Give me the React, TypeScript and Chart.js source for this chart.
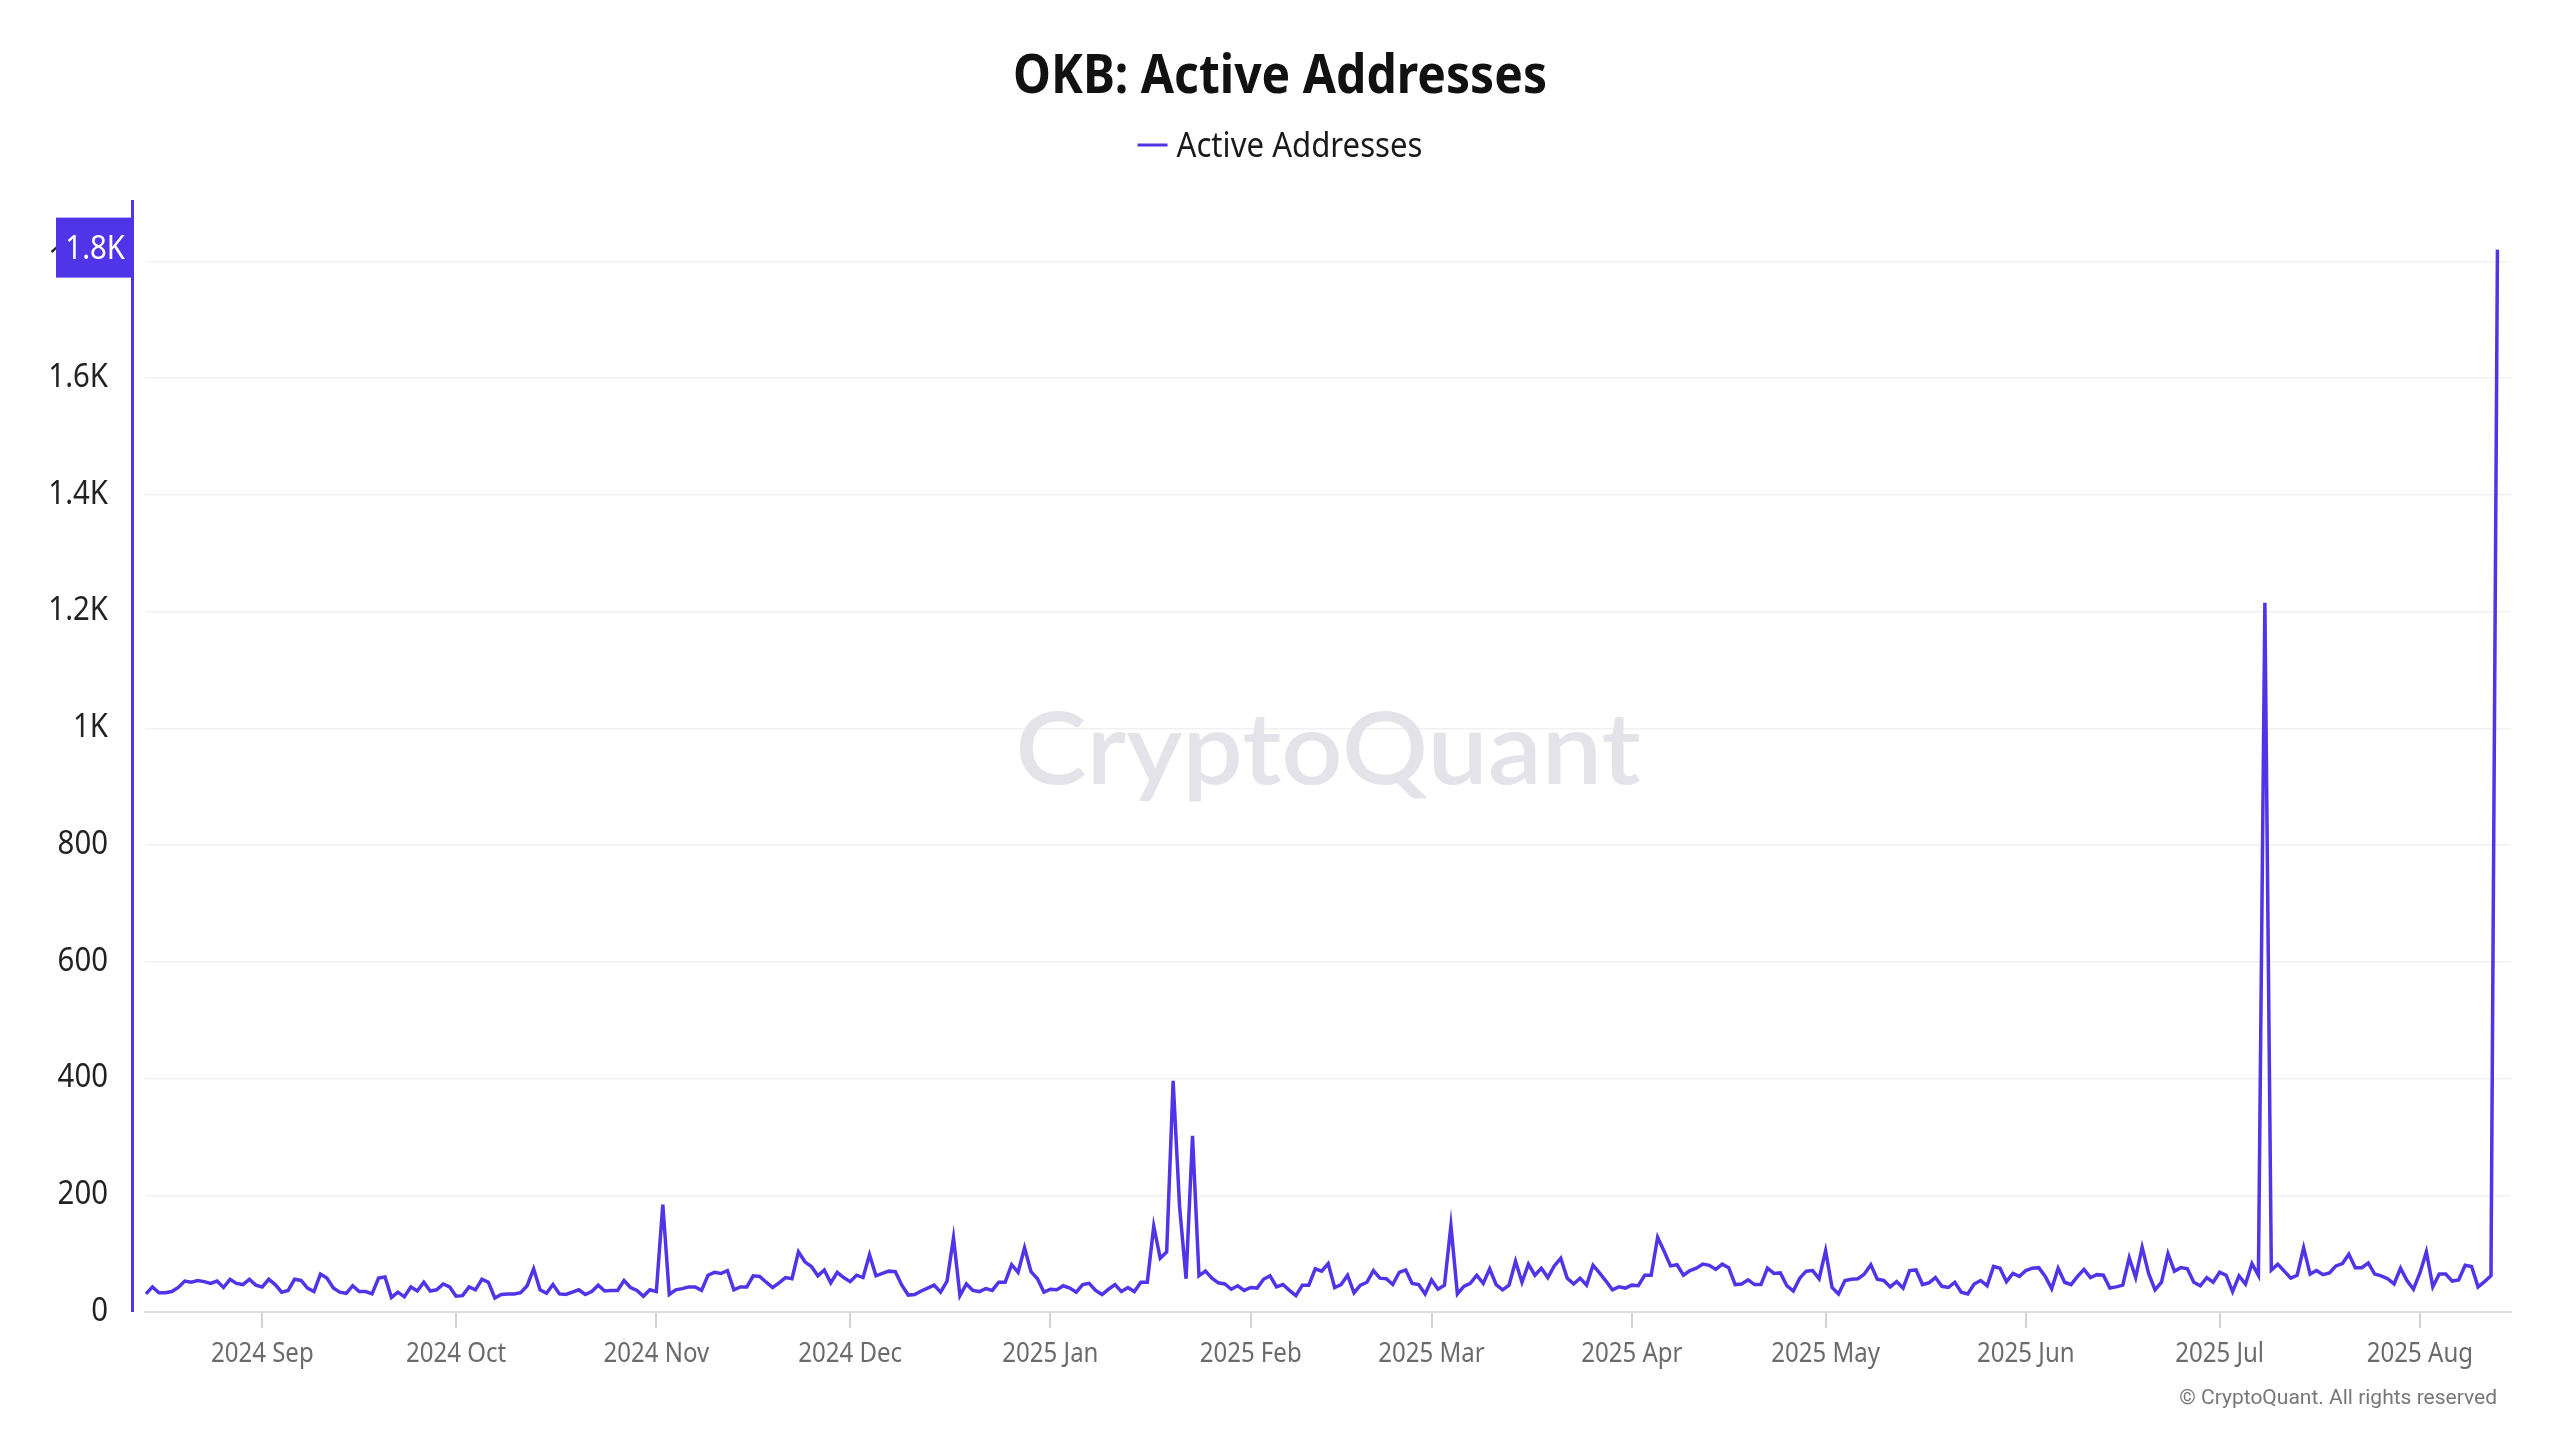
import React, { useEffect, useRef } from 'react';
import { Chart, registerables } from 'chart.js';

Chart.register(...registerables);

const TITLE = 'OKB: Active Addresses';
const SERIES_LABEL = 'Active Addresses';
const FOOTER = '\u00A9 CryptoQuant. All rights reserved';
const WATERMARK = 'CryptoQuant';
const START_DATE = '2024-08-14';

// daily active addresses, 2024-08-14 .. 2025-08-13
const activeAddresses: number[] = [
  31, 43, 33, 33, 35, 42, 53, 51, 54, 52,
  49, 53, 42, 56, 49, 47, 56, 46, 43, 56,
  47, 34, 37, 56, 54, 41, 35, 65, 58, 41,
  34, 32, 45, 35, 35, 31, 58, 60, 25, 34,
  26, 43, 36, 51, 36, 38, 48, 43, 27, 28,
  43, 38, 56, 51, 24, 30, 31, 31, 33, 45,
  74, 38, 32, 47, 31, 30, 34, 38, 30, 35,
  46, 36, 37, 37, 54, 42, 37, 27, 38, 35,
  184, 30, 38, 40, 43, 43, 37, 63, 68, 66,
  71, 38, 43, 43, 62, 61, 51, 42, 50, 59,
  57, 103, 86, 78, 62, 72, 50, 68, 59, 52,
  63, 59, 98, 62, 66, 70, 69, 46, 29, 30,
  36, 41, 46, 34, 53, 127, 28, 48, 37, 35,
  40, 37, 51, 51, 81, 68, 110, 69, 57, 34,
  39, 38, 45, 41, 34, 47, 49, 37, 30, 39,
  47, 35, 42, 35, 51, 51, 147, 92, 103, 396,
  180, 57, 302, 62, 70, 58, 50, 48, 39, 45,
  37, 42, 41, 56, 62, 43, 47, 37, 28, 46,
  46, 74, 70, 83, 42, 47, 63, 33, 46, 51,
  71, 58, 57, 47, 68, 72, 49, 47, 31, 55,
  39, 46, 148, 31, 44, 49, 63, 49, 74, 47,
  38, 46, 87, 51, 82, 63, 75, 59, 79, 92,
  58, 48, 58, 46, 80, 67, 53, 38, 43, 41,
  46, 45, 63, 63, 128, 104, 79, 81, 63, 71,
  75, 82, 80, 73, 82, 76, 47, 48, 55, 47,
  47, 75, 66, 67, 45, 36, 58, 70, 71, 57,
  105, 42, 31, 54, 56, 57, 65, 81, 56, 54,
  43, 52, 41, 71, 72, 47, 50, 59, 44, 42,
  51, 34, 31, 48, 54, 45, 78, 75, 52, 66,
  61, 71, 75, 76, 61, 40, 75, 51, 47, 61,
  73, 59, 64, 63, 41, 43, 46, 93, 59, 111,
  66, 38, 51, 100, 70, 76, 74, 51, 45, 59,
  51, 68, 63, 35, 62, 48, 83, 63, 1215, 72,
  82, 70, 58, 63, 110, 65, 71, 64, 67, 79,
  83, 99, 76, 76, 84, 65, 62, 57, 48, 75,
  54, 39, 67, 103, 43, 65, 65, 53, 55, 80,
  78, 43, 52, 62, 1820,
];

const monthTickDates = [
  '2024-09-01', '2024-10-01', '2024-11-01', '2024-12-01', '2025-01-01', '2025-02-01',
  '2025-03-01', '2025-04-01', '2025-05-01', '2025-06-01', '2025-07-01', '2025-08-01',
];
const monthTickLabels = [
  '2024 Sep', '2024 Oct', '2024 Nov', '2024 Dec', '2025 Jan', '2025 Feb',
  '2025 Mar', '2025 Apr', '2025 May', '2025 Jun', '2025 Jul', '2025 Aug',
];

const PURPLE = 'rgb(80, 52, 232)';
const FAMILY = "'Noto Sans', 'Open Sans', sans-serif";
const SQUEEZE = 0.89;

function dayIndex(d: string): number {
  return Math.round((Date.parse(d + 'T00:00:00Z') - Date.parse(START_DATE + 'T00:00:00Z')) / 86400000);
}
const monthTickDays = monthTickDates.map(dayIndex);

function fmtK(v: number): string {
  if (v >= 1000) return (v / 1000).toFixed(1).replace(/\.0$/, '') + 'K';
  return String(v);
}

function drawText(
  ctx: CanvasRenderingContext2D,
  text: string,
  x: number,
  y: number,
  font: string,
  color: string,
  align: CanvasTextAlign,
  baseline: CanvasTextBaseline,
  sx: number
) {
  ctx.save();
  ctx.font = font;
  ctx.fillStyle = color;
  ctx.textAlign = align;
  ctx.textBaseline = baseline;
  ctx.translate(x, y);
  ctx.scale(sx, 1);
  ctx.fillText(text, 0, 0);
  ctx.restore();
}

const decorPlugin = {
  id: 'decor',
  beforeDatasetsDraw(chart: any) {
    const { ctx, chartArea } = chart;
    drawText(ctx, WATERMARK, (chartArea.left + chartArea.right) / 2, 784,
      `600 100px Lato, 'Noto Sans', sans-serif`, '#e4e3ea', 'center', 'alphabetic', 1.075);
  },
  afterDraw(chart: any) {
    const { ctx, chartArea, scales } = chart;
    const xScale = scales.x;
    const yScale = scales.y;

    // y tick labels
    for (const t of yScale.ticks) {
      const py = yScale.getPixelForValue(t.value);
      drawText(ctx, fmtK(t.value), 108, py - 0.5, `33px ${FAMILY}`, '#222222', 'right', 'middle', SQUEEZE);
    }
    // x tick labels
    for (const t of xScale.ticks) {
      const k = monthTickDays.indexOf(t.value);
      if (k < 0) continue;
      const px = xScale.getPixelForValue(t.value);
      drawText(ctx, monthTickLabels[k], px, 1362, `27px ${FAMILY}`, '#6b6b6b', 'center', 'alphabetic', SQUEEZE);
    }

    ctx.save();
    // purple vertical axis line
    const axX = chartArea.left - 12.5;
    ctx.strokeStyle = PURPLE;
    ctx.lineWidth = 3;
    ctx.beginPath();
    ctx.moveTo(axX, chartArea.top);
    ctx.lineTo(axX, chartArea.bottom);
    ctx.stroke();

    // last value highlight box
    const data = chart.data.datasets[0].data as any[];
    const last = data[data.length - 1].y;
    const ly = yScale.getPixelForValue(last);
    ctx.fillStyle = PURPLE;
    ctx.fillRect(56, ly - 32, axX + 1.5 - 56, 60);
    ctx.restore();
    drawText(ctx, fmtK(last), 125, ly, `33px ${FAMILY}`, '#ffffff', 'right', 'middle', SQUEEZE);

    // title
    drawText(ctx, TITLE, 1280, 93, `bold 54px ${FAMILY}`, '#111111', 'center', 'alphabetic', SQUEEZE);

    // legend
    const label = chart.data.datasets[0].label;
    ctx.save();
    ctx.font = `35px ${FAMILY}`;
    const tw = ctx.measureText(label).width * SQUEEZE;
    const total = 30 + 9 + tw;
    const sx = 1280 - total / 2;
    ctx.strokeStyle = PURPLE;
    ctx.lineWidth = 3;
    ctx.beginPath();
    ctx.moveTo(sx, 145);
    ctx.lineTo(sx + 30, 145);
    ctx.stroke();
    ctx.restore();
    drawText(ctx, label, sx + 39, 157, `35px ${FAMILY}`, '#1a1a1a', 'left', 'alphabetic', SQUEEZE);

    // footer
    drawText(ctx, FOOTER, 2497, 1404, `21px Roboto, sans-serif`, '#777777', 'right', 'alphabetic', 1);
  },
};

export default function App() {
  const ref = useRef<HTMLCanvasElement | null>(null);
  useEffect(() => {
    document.body.style.margin = '0';
    const canvas = ref.current;
    if (!canvas) return;
    const chart = new Chart(canvas, {
      type: 'line',
      data: {
        datasets: [
          {
            label: SERIES_LABEL,
            data: activeAddresses.map((v, i) => ({ x: i, y: v })),
            borderColor: PURPLE,
            backgroundColor: PURPLE,
            borderWidth: 3.5,
            pointRadius: 0,
            pointHoverRadius: 0,
            tension: 0,
            fill: false,
          },
        ],
      },
      options: {
        responsive: false,
        devicePixelRatio: 1,
        animation: false,
        layout: { padding: { top: 200, left: 0, right: 49, bottom: 0 } },
        plugins: {
          legend: { display: false },
          title: { display: false },
          tooltip: { enabled: false },
        },
        scales: {
          x: {
            type: 'linear',
            min: -0.155,
            max: 366.1,
            afterBuildTicks: (s: any) => {
              s.ticks = monthTickDays.map((v) => ({ value: v }));
            },
            afterFit: (s: any) => {
              s.height = 128;
            },
            ticks: {
              autoSkip: false,
              maxRotation: 0,
              minRotation: 0,
              padding: 8,
              color: 'rgba(0,0,0,0)',
              font: { family: FAMILY, size: 27 },
              callback: (v: any) => {
                const k = monthTickDays.indexOf(Number(v));
                return k >= 0 ? monthTickLabels[k] : '';
              },
            },
            grid: { drawOnChartArea: false, drawTicks: true, tickLength: 16, color: '#d2d2d8', lineWidth: 2 },
            border: { display: true, color: '#dcdce3', width: 2 },
          },
          y: {
            type: 'linear',
            min: 0,
            max: 1905,
            afterFit: (s: any) => {
              s.width = 145;
            },
            ticks: {
              stepSize: 200,
              includeBounds: false,
              padding: 37,
              color: 'rgba(0,0,0,0)',
              font: { family: FAMILY, size: 33 },
              callback: (v: any) => fmtK(Number(v)),
            },
            grid: { drawTicks: false, color: '#f1f1f3', lineWidth: 1.5 },
            border: { display: false },
          },
        },
      },
      plugins: [decorPlugin],
    });
    return () => chart.destroy();
  }, []);
  return (
    <canvas
      ref={ref}
      width={2560}
      height={1440}
      style={{ display: 'block', width: '2560px', height: '1440px' }}
    />
  );
}
